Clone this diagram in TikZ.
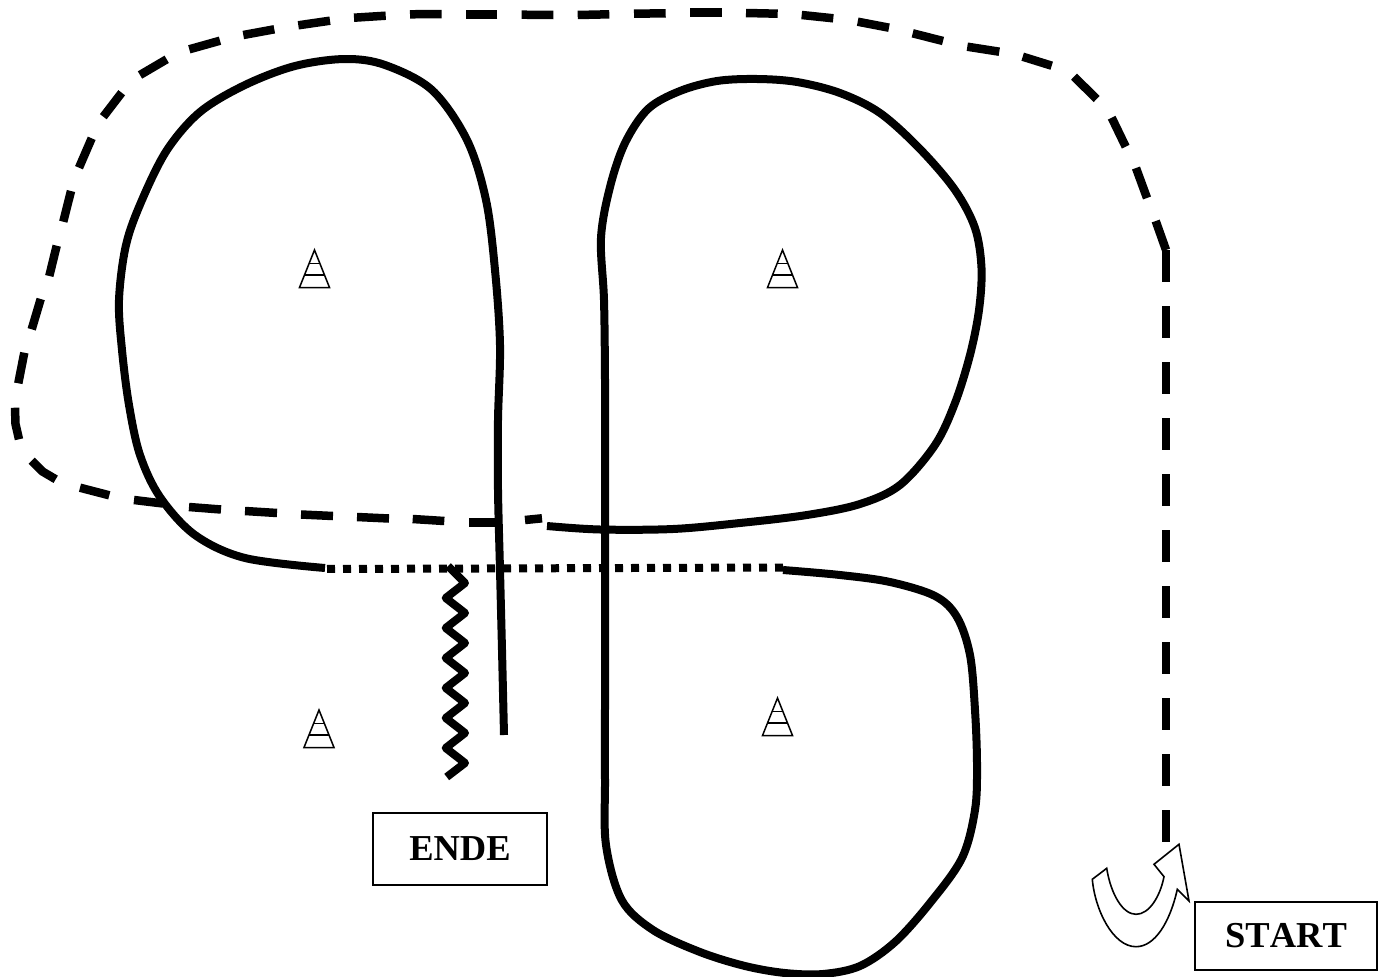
\documentclass[tikz,border=0pt]{standalone}
\usepackage{fontspec}
\setmainfont[Kerning=Off]{Liberation Serif}
\begin{document}
\begin{tikzpicture}[x=1pt,y=-1pt,
  track/.style={line width=8pt,line join=round},
  tracedash/.style={line width=8.5pt,line join=round},
  tracedot/.style={line width=8pt,dash pattern=on 8pt off 8pt},
  zig/.style={line width=8pt,line join=round},
  cone/.style={line width=1.5pt,line join=miter},
  label/.style={draw,line width=1.7pt,font=\fontsize{36.5}{40}\selectfont\bfseries,inner sep=0pt,outer sep=0pt,anchor=north west}]
\useasboundingbox (0,0) rectangle (1382,977);
% dashed route
\draw[tracedash,dash pattern=on 32pt off 24pt] (1166,250) -- (1166,842);
\foreach \xa/\ya/\xb/\yb in {1166/250/1155.7/221, 1147/198/1136/168, 1125.7/146.7/1111.7/117.7, 1096.7/99/1074/76.7, 1051.7/65.7/1022.7/56.7, 999.3/51.7/967.3/46.7, 943/41/912.7/33.3, 889/27.7/857.7/21.7, 833.3/18.3/801.7/15, 777.7/13.7/746/13, 721.7/12.7/690/12.7, 665.7/13.3/634/13.7, 609.3/14.3/577.7/15, 553.3/15/521.7/14.7, 497.3/14.3/466/14.3, 441.7/14/410/14.3, 385.7/15.7/354/17.7, 330/20.7/298.3/25.3, 274.3/29.3/243.3/35, 220/40.7/189.3/49.3, 166.7/59.3/140/75, 121.7/92.7/103.3/116.7, 91.7/138.3/79/167.7, 71/191/63.3/221.7, 56.7/245.7/49.3/276, 40.7/299/31.7/329.3, 24.3/352.7/18.3/383.3, 80/487.7/109.3/495.3, 134/500/163/503.5, 189/507/221/509.5, 245/511/277/513, 301/514.5/333/516, 357/517/389/518.5, 412.7/519/444.3/521, 469/522.3/497/522.3, 525/520/542/518.3}{
  \draw[tracedash] (\xa,\ya) -- (\xb,\yb);
}
\draw[tracedash] (15,407.7) -- (15.5,424) -- (19,439.3);
\draw[tracedash] (31.7,460.7) -- (42.5,471.5) -- (55.7,479.3);
% solid loops
\draw[track] plot[smooth,tension=0.55] coordinates {(504,735) (502,650) (500,570) (498,490) (498,420) (500,345) (495,270) (486,200) (467,140) (432,90) (385,65) (345,59) (295,66) (245,85) (200,112) (167,150) (142,200) (126,245) (119,300) (122,350) (129,405) (140,455) (160,497) (195,535) (245,558) (325,568)};
\draw[track] plot[smooth,tension=0.55] coordinates {(547,526) (600,529.5) (673,529) (740,523) (807,515) (860,504) (900,485) (935,445) (955,403) (970,355) (979,310) (981.5,268) (975,228) (955,190) (920,149) (880,113) (840,93) (797,82) (757,79) (717,81) (680,91) (648,109) (625,143) (610,187) (601,238) (604,300) (605,380) (605,460) (605,540) (605,620) (605,700) (605,780) (606,845) (621.7,900) (653,930) (700,952) (745,966) (785,973) (823,974) (860,966) (895,942) (930,903) (962,858) (975,810) (977,765) (975,710) (970,655) (957,617) (935,596) (890,582) (840,575) (783,570)};
\draw[tracedot] (783,567.5) -- (325,569);
% zigzag
\draw[zig] (448,566) -- (465,583) -- (445.7,598) -- (465,613) -- (445.7,628) -- (465,643) -- (445.7,658) -- (465,673) -- (445.7,688) -- (465,703) -- (445.7,718) -- (465,733) -- (445.7,748) -- (465,763) -- (446.7,777);
% cones
\foreach \ax/\ay in {314.5/250, 782.5/250, 319/710, 777.5/698}{
  \draw[cone] (\ax,\ay) -- (\ax-15,\ay+37.5) -- (\ax+15,\ay+37.5) -- cycle;
  \draw[cone] (\ax-5.5,\ay+13.5) -- (\ax+5.5,\ay+13.5);
  \draw[cone] (\ax-10,\ay+25) -- (\ax+10,\ay+25);
}
% curved arrow
\draw[line width=1.6pt,line join=miter] (1092.3,879.3) -- (1106.7,868.3)
  .. controls (1111,895) and (1123,914.3) .. (1136,914.3)
  .. controls (1149,914.3) and (1160,897) .. (1164,876.7)
  -- (1154,864.3) -- (1179,844.3) -- (1189,901) -- (1177.3,889.3)
  .. controls (1170,922) and (1155,946.7) .. (1136,946.7)
  .. controls (1113,946.7) and (1095,910) .. (1092.3,879.3) -- cycle;
% labels
\node[label,minimum width=174pt,minimum height=72pt] (ende) at (373,813) {\raisebox{1pt}{ENDE}};
\node[label,minimum width=182pt,minimum height=68pt] (start) at (1195,902) {\raisebox{1pt}{START}};
\end{tikzpicture}
\end{document}
